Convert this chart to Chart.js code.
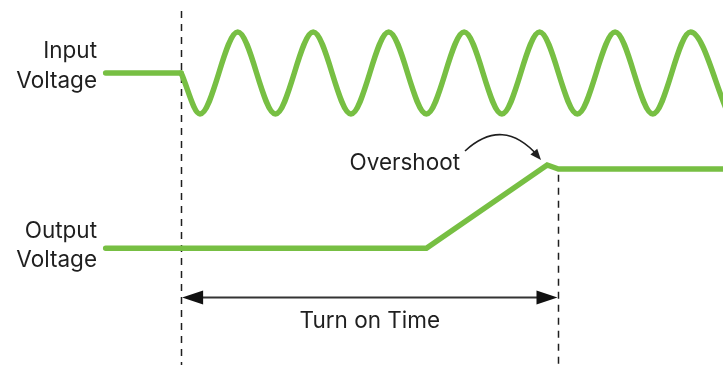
<!DOCTYPE html>
<html>
<head>
<meta charset="utf-8">
<script src="https://cdn.jsdelivr.net/npm/chart.js@4.4.1/dist/chart.umd.min.js"></script>
<style>
  html, body { margin: 0; padding: 0; background: #fff; }
  canvas { display: block; }
</style>
</head>
<body>
<canvas id="chart" width="723" height="365"></canvas>
<script>
// time in ms (50 Hz mains, 20 ms per cycle), level in arbitrary volts
const idleTime = [-20, 0];
const idleLevel = [8.0, 8.0];

const sineTime = [0, 5, 15, 25, 35, 45, 55, 65, 75, 85, 95, 105, 115, 125, 135, 145];
const sineLevel = [8.0, 6.88, 9.12, 6.88, 9.12, 6.88, 9.12, 6.88, 9.12, 6.88, 9.12, 6.88, 9.12, 6.88, 9.12, 6.88];

const outTime = [-20, 65, 97, 100, 150];
const outLevel = [3.2, 3.2, 5.48, 5.37, 5.37];

const turnOnStart = 0;
const turnOnEnd = 100;

const green = "#77BF43";
const ink = "#1f1f1f";
const font = "22.5px Inter";

const toPoints = (xs, ys) => xs.map((x, i) => ({ x, y: ys[i] }));

const arrowHead = (ctx, x, y, dir, len, half) => {

  ctx.beginPath();
  ctx.moveTo(x, y);
  ctx.lineTo(x - dir * len, y - half);
  ctx.lineTo(x - dir * len, y + half);
  ctx.closePath();
  ctx.fill();

};

const dashedLines = {
  id: "dashedLines",
  beforeDatasetsDraw (chart) {

    const { ctx, scales: { x, y } } = chart;
    ctx.save();
    ctx.strokeStyle = ink;
    ctx.lineWidth = 1.5;
    ctx.setLineDash([7, 6]);
    [[turnOnStart, 9.7], [turnOnEnd, 5.21]].forEach(([t, top]) => {

      const px = Math.round(x.getPixelForValue(t)) + 0.5;
      ctx.beginPath();
      ctx.moveTo(px, y.getPixelForValue(top));
      ctx.lineTo(px, y.getPixelForValue(0));
      ctx.stroke();

    });
    ctx.restore();

  },
};

const notes = {
  id: "notes",
  afterDatasetsDraw (chart) {

    const { ctx, scales: { x, y } } = chart;
    ctx.save();

    // turn on time arrow
    const x0 = x.getPixelForValue(turnOnStart) + 1;
    const x1 = x.getPixelForValue(turnOnEnd) - 1;
    const ay = y.getPixelForValue(1.85);
    ctx.strokeStyle = "#333";
    ctx.fillStyle = "#111";
    ctx.lineWidth = 2;
    ctx.beginPath();
    ctx.moveTo(x0 + 10, ay);
    ctx.lineTo(x1 - 10, ay);
    ctx.stroke();
    arrowHead(ctx, x0, ay, -1, 21, 7);
    arrowHead(ctx, x1, ay, 1, 21, 7);

    // overshoot curved arrow
    const sx = 465, sy = 151, cx = 503, cy = 116, ex = 541, ey = 160;
    ctx.lineWidth = 1.6;
    ctx.strokeStyle = ink;
    ctx.beginPath();
    ctx.moveTo(sx, sy);
    ctx.quadraticCurveTo(cx, cy, ex - 3, ey - 4);
    ctx.stroke();
    const ang = Math.atan2(ey - cy, ex - cx);
    ctx.save();
    ctx.translate(ex, ey);
    ctx.rotate(ang);
    ctx.fillStyle = ink;
    arrowHead(ctx, 0, 0, 1, 11, 4.5);
    ctx.restore();

    // labels
    ctx.fillStyle = ink;
    ctx.font = font;
    ctx.textBaseline = "alphabetic";
    ctx.textAlign = "right";
    ctx.fillText("Input", 97, 58);
    ctx.fillText("Voltage", 97, 88);
    ctx.fillText("Output", 97, 238);
    ctx.fillText("Voltage", 97, 267);
    ctx.fillText("Overshoot", 460, 170);
    ctx.textAlign = "center";
    ctx.fillText("Turn on Time", (x0 + x1) / 2, 328);

    ctx.restore();

  },
};

const datasets = [
  {
    label: "Input idle",
    data: toPoints(idleTime, idleLevel),
    borderColor: green,
    borderWidth: 5.5,
    borderCapStyle: "round",
    pointRadius: 0,
  },
  {
    label: "Input voltage",
    data: toPoints(sineTime, sineLevel),
    borderColor: green,
    borderWidth: 5.5,
    borderCapStyle: "round",
    cubicInterpolationMode: "monotone",
    pointRadius: 0,
  },
  {
    label: "Output voltage",
    data: toPoints(outTime, outLevel),
    borderColor: green,
    borderWidth: 5.5,
    borderCapStyle: "round",
    tension: 0,
    pointRadius: 0,
  },
];

new Chart(document.getElementById("chart"), {
  type: "line",
  data: { datasets },
  options: {
    responsive: false,
    animation: false,
    layout: { padding: 0 },
    plugins: {
      legend: { display: false },
      tooltip: { enabled: false },
    },
    scales: {
      x: { type: "linear", min: -48, max: 143.6, display: false },
      y: { min: 0, max: 10, display: false },
    },
  },
  plugins: [dashedLines, notes],
});
</script>
</body>
</html>
